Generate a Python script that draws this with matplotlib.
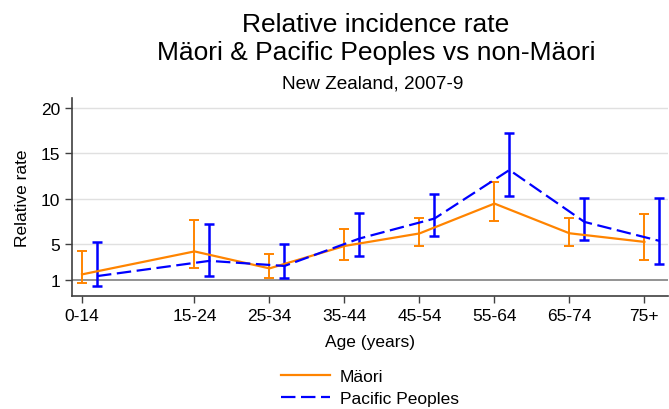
import numpy as np
import matplotlib
matplotlib.use("Agg")
import matplotlib.pyplot as plt

plt.rcParams['font.family'] = ['Liberation Sans', 'DejaVu Sans']

age_groups = ['0-14', '15-24', '25-34', '35-44', '45-54', '55-64', '65-74', '75+']
age_pos = [5, 20, 30, 40, 50, 60, 70, 80]

maori_rate = [1.67, 4.2, 2.33, 4.8, 6.18, 9.47, 6.2, 5.25]
maori_lo = [0.68, 2.36, 1.3, 3.3, 4.8, 7.6, 4.85, 3.24]
maori_hi = [4.2, 7.64, 3.9, 6.65, 7.86, 11.9, 7.93, 8.33]

pacific_rate = [1.48, 3.16, 2.6, 5.62, 7.82, 13.17, 7.45, 5.36]
pacific_lo = [0.42, 1.45, 1.3, 3.7, 5.85, 10.26, 5.44, 2.8]
pacific_hi = [5.25, 7.2, 5.0, 8.48, 10.5, 17.2, 10.13, 10.13]

orange = '#ff8400'
blue = '#0000ff'

fig = plt.figure(figsize=(6.69, 4.10), dpi=100)
ax = fig.add_axes([0.108, 0.2763, 0.890, 0.4822])

x = np.array(age_pos, dtype=float)
xp = x + 2

ax.axhline(1, color='#808080', lw=1.2, zorder=1)
for g in [5, 10, 15, 20]:
    ax.axhline(g, color='#e0e0e0', lw=1.0, zorder=0)

m = np.array(maori_rate)
ax.errorbar(x, m, yerr=[m - np.array(maori_lo), np.array(maori_hi) - m],
            fmt='none', ecolor=orange, elinewidth=1.4, capsize=3.5, capthick=1.4, zorder=2)
ax.plot(x, m, color=orange, lw=1.6, label='Mäori', zorder=3)

p = np.array(pacific_rate)
ax.errorbar(xp, p, yerr=[p - np.array(pacific_lo), np.array(pacific_hi) - p],
            fmt='none', ecolor=blue, elinewidth=1.8, capsize=3.5, capthick=1.8, zorder=2)
ax.plot(xp, p, color=blue, lw=1.6, dashes=(6.5, 2.5), label='Pacific Peoples', zorder=3)

ax.set_xlim(3.7, 83.1)
ax.set_ylim(-0.68, 21.1)
ax.set_xticks(age_pos)
ax.set_xticklabels(age_groups)
ax.set_yticks([1, 5, 10, 15, 20])
ax.tick_params(axis='both', labelsize=12.5, color='#404040', length=5, width=1)
ax.spines['top'].set_visible(False)
ax.spines['right'].set_visible(False)
ax.spines['left'].set_color('#404040')
ax.spines['bottom'].set_color('#404040')
ax.spines['left'].set_linewidth(1.2)
ax.spines['bottom'].set_linewidth(1.2)

ax.set_xlabel('Age (years)', fontsize=12.5, labelpad=8)
ax.set_ylabel('Relative rate', fontsize=12.5, labelpad=8)

fig.text(0.562, 0.922, 'Relative incidence rate', ha='center', va='baseline', fontsize=19)
fig.text(0.562, 0.854, 'Mäori & Pacific Peoples vs non-Mäori', ha='center', va='baseline', fontsize=19)
fig.text(0.557, 0.783, 'New Zealand, 2007-9', ha='center', va='baseline', fontsize=13.7)

fig.legend(loc='center', bbox_to_anchor=(0.553, 0.052), frameon=False, fontsize=12.5,
           handlelength=2.8, handletextpad=0.6, labelspacing=0.4)

fig.savefig('out.png', dpi=100)
